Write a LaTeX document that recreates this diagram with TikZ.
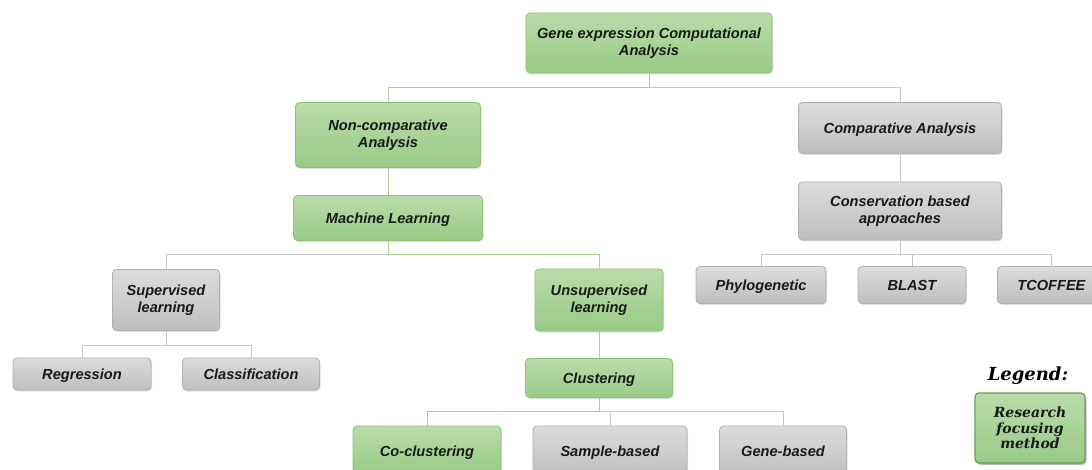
\documentclass[tikz,border=0pt]{standalone}
\usepackage{fontspec}
\setmainfont{Liberation Sans}
\newfontfamily\legfont{DejaVu Serif}
\usetikzlibrary{shadows}
\definecolor{gtop}{HTML}{B9DCA9}
\definecolor{gbot}{HTML}{98CA86}
\definecolor{gdraw}{HTML}{8CC276}
\definecolor{ytop}{HTML}{DCDCDC}
\definecolor{ybot}{HTML}{BEBEBE}
\definecolor{ydraw}{HTML}{B0B0B0}
\definecolor{gline}{HTML}{A6D08E}
\definecolor{yline}{HTML}{C8C8C8}
\tikzset{
  box/.style={rounded corners=4pt, align=center, inner sep=2pt, line width=0.8pt,
    text=black!90, font=\fontsize{14.6}{16.5}\selectfont\bfseries\itshape,
    drop shadow={opacity=0.25, shadow xshift=1pt, shadow yshift=-1.5pt}},
  gbox/.style={box, draw=gdraw, top color=gtop, bottom color=gbot},
  ybox/.style={box, draw=ydraw, top color=ytop, bottom color=ybot},
  one/.style={text height=10.5pt, text depth=0pt},
  gl/.style={draw=gline, line width=1pt},
  yl/.style={draw=yline, line width=1pt},
}
\begin{document}
\begin{tikzpicture}[x=1pt,y=-1pt]
\clip (0,0) rectangle (1092,470);
\fill[white] (0,0) rectangle (1092,470);
% nodes
\node[gbox, minimum width=246, minimum height=60] (root) at (649,43) {Gene expression Computational\\Analysis};
\node[gbox, minimum width=185, minimum height=65] (noncomp) at (388,135) {Non-comparative\\Analysis};
\node[ybox, one, minimum width=203, minimum height=51] (comp) at (900,128) {Comparative Analysis};
\node[gbox, one, minimum width=189, minimum height=45] (ml) at (388,218) {Machine Learning};
\node[ybox, minimum width=203, minimum height=58] (cons) at (900,211) {Conservation based\\approaches};
\node[ybox, minimum width=107, minimum height=61] (sup) at (166,300) {Supervised\\learning};
\node[gbox, minimum width=128, minimum height=62] (unsup) at (599,300) {Unsupervised\\learning};
\node[ybox, one, minimum width=130, minimum height=37] (phylo) at (761,285) {Phylogenetic};
\node[ybox, one, minimum width=108, minimum height=37] (blast) at (912,285) {BLAST};
\node[ybox, one, minimum width=108, minimum height=37, anchor=west] (tcof) at (997,285) {TCOFFEE};
\node[ybox, one, minimum width=138, minimum height=32] (reg) at (82,374) {Regression};
\node[ybox, one, minimum width=137, minimum height=32] (cls) at (251,374) {Classification};
\node[gbox, one, minimum width=147, minimum height=39] (clu) at (599,378) {Clustering};
\node[gbox, one, minimum width=148, minimum height=50] (cocl) at (427,451) {Co-clustering};
\node[ybox, one, minimum width=154, minimum height=50] (samp) at (610,451) {Sample-based};
\node[ybox, one, minimum width=127, minimum height=50] (gene) at (783,451) {Gene-based};
\node[font=\legfont\fontsize{18}{20}\selectfont\bfseries\itshape] (legt) at (1028,376) {Legend:};
\node[gbox, draw=gdraw!80!black, line width=1.3pt, minimum width=110, minimum height=70,
  inner sep=1pt, font=\legfont\fontsize{14}{15.5}\selectfont\bfseries\itshape,
  drop shadow={opacity=0.45, shadow xshift=1.5pt, shadow yshift=-2pt}] (leg) at (1030,428) {Research\\focusing\\method};
% connectors
\draw[yl] (root.south) -- ++(0,14) -| (comp.north);
\draw[gl] (root.south) -- ++(0,14) -| (noncomp.north);
\draw[gl] (noncomp.south) -- (ml.north);
\draw[yl] (comp.south) -- (cons.north);
\draw[yl] (ml.south) -- ++(0,14) -| (sup.north);
\draw[gl] (ml.south) -- ++(0,14) -| (unsup.north);
\draw[yl] (cons.south) -- ++(0,14) -| (phylo.north);
\draw[yl] (cons.south) -- ++(0,14) -| (blast.north);
\draw[yl] (cons.south) -- ++(0,14) -| (1051,267);
\draw[yl] (sup.south) -- ++(0,15) -| (reg.north);
\draw[yl] (sup.south) -- ++(0,15) -| (cls.north);
\draw[gl] (unsup.south) -- (clu.north);
\draw[yl] (clu.south) -- ++(0,14) -| (samp.north);
\draw[yl] (clu.south) -- ++(0,14) -| (gene.north);
\draw[gl] (clu.south) -- ++(0,14) -| (cocl.north);
\end{tikzpicture}
\end{document}
